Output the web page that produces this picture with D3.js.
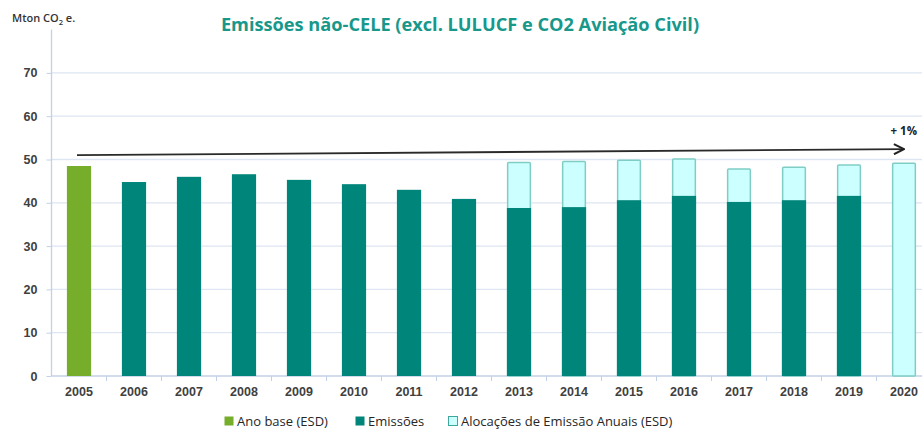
<!DOCTYPE html>
<html>
<head>
<meta charset="utf-8">
<script src="https://cdn.jsdelivr.net/npm/d3@7"></script>
<style>
  body { margin: 0; background: #fff; }
  svg { display: block; font-family: "Open Sans", "DejaVu Sans", sans-serif; }
</style>
</head>
<body>
<div id="chart"></div>
<script>
// values (Mton CO2 e.)
var years = ["2005","2006","2007","2008","2009","2010","2011","2012","2013","2014","2015","2016","2017","2018","2019","2020"];
var baseYear = [48.5, null, null, null, null, null, null, null, null, null, null, null, null, null, null, null];
var emissions = [null, 44.8, 46.0, 46.6, 45.3, 44.3, 43.0, 40.9, 38.8, 39.0, 40.6, 41.6, 40.2, 40.6, 41.6, null];
var allocations = [null, null, null, null, null, null, null, null, 49.5, 49.7, 50.0, 50.3, 48.0, 48.4, 48.9, 49.3];
var yTicks = [0, 10, 20, 30, 40, 50, 60, 70];
var trendStart = 51.0, trendEnd = 52.4;

var W = 922, H = 430;
var left = 51.5, bottom = 376;

var svg = d3.select("#chart").append("svg")
	.attr("width", W)
	.attr("height", H);

var x = d3.scaleBand()
	.domain(years)
	.range([left, left + 16 * 55])
	.paddingInner(0.56)
	.paddingOuter(0.28);

var y = d3.scaleLinear()
	.domain([0, 80])
	.range([bottom, bottom - 8 * 43.3]);

// grid lines
svg.append("g").selectAll("line")
	.data(yTicks.slice(1))
	.enter().append("line")
		.attr("x1", left)
		.attr("x2", W)
		.attr("y1", function(d) { return y(d); })
		.attr("y2", function(d) { return y(d); })
		.style("stroke", "#dde6f2")
		.style("stroke-width", 1.3);

// y axis
var yAxis = svg.append("g")
	.attr("transform", "translate(" + left + ",0)")
	.call(d3.axisLeft(y).tickValues(yTicks).tickSize(5).tickPadding(9));
yAxis.select(".domain").attr("d", "M0," + y(80) + "V" + bottom).style("stroke", "#c3d1e6").style("stroke-width", 1.3);
yAxis.selectAll(".tick line").style("stroke", "#c3d1e6");
yAxis.selectAll(".tick text")
	.style("font-size", "12.5px")
	.style("font-weight", "600")
	.style("fill", "#404040");

// x axis
var xAxis = svg.append("g")
	.attr("transform", "translate(0," + bottom + ")")
	.call(d3.axisBottom(x).tickSize(0).tickPadding(11));
xAxis.select(".domain").attr("d", "M" + left + ",0H" + W).style("stroke", "#c3d1e6").style("stroke-width", 1.3);
xAxis.selectAll(".tick text")
	.style("font-size", "12.5px")
	.style("font-weight", "600")
	.style("fill", "#404040");
// tick marks between categories
svg.append("g").selectAll("line")
	.data(years.slice(1))
	.enter().append("line")
		.attr("x1", function(d) { return x(d) - x.step() * x.paddingInner() / 2; })
		.attr("x2", function(d) { return x(d) - x.step() * x.paddingInner() / 2; })
		.attr("y1", bottom)
		.attr("y2", bottom + 5)
		.style("stroke", "#c3d1e6");

// allocation bars (behind)
svg.append("g").selectAll("rect")
	.data(years.map(function(d, i) { return {year: d, v: allocations[i]}; }).filter(function(d) { return d.v != null; }))
	.enter().append("rect")
		.attr("x", function(d) { return x(d.year) + 0.75; })
		.attr("y", function(d) { return y(d.v) + 0.75; })
		.attr("width", x.bandwidth() - 1.5)
		.attr("height", function(d) { return bottom - y(d.v) - 0.75; })
		.attr("rx", 1)
		.style("fill", "#ccffff")
		.style("stroke", "#7fcdc5")
		.style("stroke-width", 1.5);

// emissions bars
svg.append("g").selectAll("rect")
	.data(years.map(function(d, i) { return {year: d, v: emissions[i]}; }).filter(function(d) { return d.v != null; }))
	.enter().append("rect")
		.attr("x", function(d) { return x(d.year); })
		.attr("y", function(d) { return y(d.v); })
		.attr("width", x.bandwidth())
		.attr("height", function(d) { return bottom - y(d.v); })
		.style("fill", "#00857a");

// base year bar
svg.append("g").selectAll("rect")
	.data(years.map(function(d, i) { return {year: d, v: baseYear[i]}; }).filter(function(d) { return d.v != null; }))
	.enter().append("rect")
		.attr("x", function(d) { return x(d.year); })
		.attr("y", function(d) { return y(d.v); })
		.attr("width", x.bandwidth())
		.attr("height", function(d) { return bottom - y(d.v); })
		.style("fill", "#76ad2a");

// trend arrow
var defs = svg.append("defs");
defs.append("marker")
	.attr("id", "arrow")
	.attr("viewBox", "0 0 10 10")
	.attr("refX", 9)
	.attr("refY", 5)
	.attr("markerWidth", 7)
	.attr("markerHeight", 7)
	.attr("orient", "auto")
	.append("path")
		.attr("d", "M1,1 L9,5 L1,9")
		.style("fill", "none")
		.style("stroke", "#222")
		.style("stroke-width", 1.6);

var cx = function(d) { return x(d) + x.bandwidth() / 2; };
svg.append("line")
	.attr("x1", cx("2005") - 2)
	.attr("y1", y(trendStart))
	.attr("x2", cx("2020"))
	.attr("y2", y(trendEnd))
	.style("stroke", "#2a2a2a")
	.style("stroke-width", 1.8)
	.attr("marker-end", "url(#arrow)");

svg.append("text")
	.attr("x", 917)
	.attr("y", 135)
	.attr("text-anchor", "end")
	.style("font-size", "11.5px")
	.style("font-weight", "700")
	.style("fill", "#222")
	.text("+ 1%");

// title
svg.append("text")
	.attr("x", 460)
	.attr("y", 31)
	.attr("text-anchor", "middle")
	.style("font-size", "18.2px")
	.style("font-weight", "700")
	.style("fill", "#17988a")
	.text("Emissões não-CELE (excl. LULUCF e CO2 Aviação Civil)");

// y axis label
var yl = svg.append("text")
	.attr("x", 12)
	.attr("y", 22)
	.style("font-size", "11px")
	.style("font-weight", "600")
	.style("fill", "#333");
yl.append("tspan").text("Mton CO");
yl.append("tspan").attr("dy", 3).style("font-size", "7.5px").text("2");
yl.append("tspan").attr("dy", -3).text(" e.");

// legend
var legendItems = [
	{label: "Ano base (ESD)", fill: "#76ad2a", stroke: "none", x: 224},
	{label: "Emissões", fill: "#00857a", stroke: "none", x: 355},
	{label: "Alocações de Emissão Anuais (ESD)", fill: "#ccffff", stroke: "#3fa89c", x: 448}
];
var lg = svg.append("g").selectAll("g")
	.data(legendItems)
	.enter().append("g")
		.attr("transform", function(d) { return "translate(" + d.x + ",416)"; });
lg.append("rect")
	.attr("x", 0.5)
	.attr("y", 0.5)
	.attr("width", 9)
	.attr("height", 9)
	.style("fill", function(d) { return d.fill; })
	.style("stroke", function(d) { return d.stroke; });
lg.append("text")
	.attr("x", 13)
	.attr("y", 10)
	.style("font-size", "13px")
	.style("font-weight", "500")
	.style("fill", "#262626")
	.text(function(d) { return d.label; });
</script>
</body>
</html>
